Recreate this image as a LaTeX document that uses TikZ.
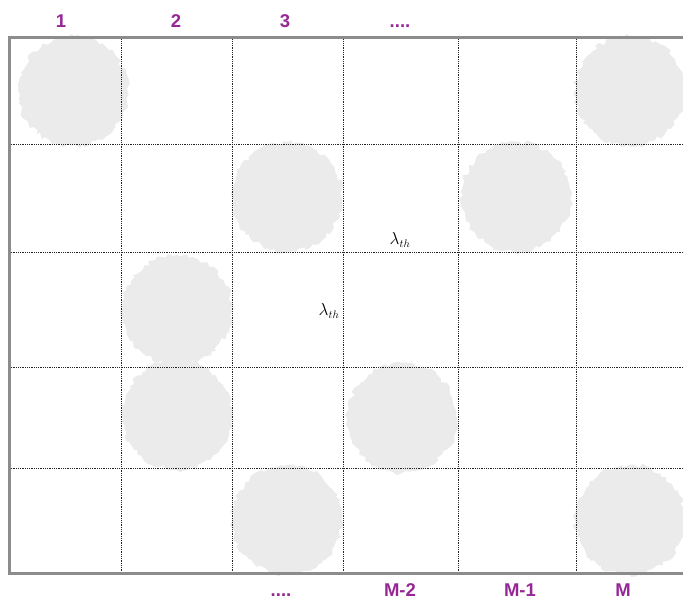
\documentclass[tikz,border=0pt]{standalone}
\usepackage{fontspec}
\setsansfont{Liberation Sans}
\usetikzlibrary{decorations.pathmorphing}
\definecolor{lblpurple}{RGB}{150,40,150}
\definecolor{blobgray}{RGB}{235,235,235}
\definecolor{bordergray}{RGB}{140,140,140}
\tikzset{
  lbl/.style={text=lblpurple,font=\sffamily\bfseries\fontsize{18.5}{20}\selectfont,anchor=base,inner sep=0pt},
  lam/.style={font=\fontsize{16}{19}\selectfont,inner sep=0pt},
  gridline/.style={draw=black!85,line width=0.9pt,dash pattern=on 1pt off 0.8pt},
  border/.style={draw=bordergray,line width=3pt},
  blob/.style={fill=blobgray,decorate,decoration={random steps,segment length=3.5pt,amplitude=2.4pt}}
}
\begin{document}
\begin{tikzpicture}[x=1pt,y=-1pt]
\useasboundingbox (0,0) rectangle (683,600);
\clip (0,0) rectangle (683,600);
\pgfmathsetseed{7}
% blobs
\foreach \cx/\cy in {73/91, 630/91, 287/197, 516/197, 177/310, 177/415, 402/418, 287/520, 630/520}{
  \path[blob] (\cx,\cy) circle[radius=55];
}
% grid lines
\foreach \gx in {121,232,343,458,576}{
  \draw[gridline] (\gx,37.5) -- (\gx,573);
}
\foreach \gy in {144,252.3,367,468}{
  \draw[gridline] (9,\gy) -- (690,\gy);
}
% border
\draw[border] (700,37.5) -- (9,37.5) -- (9,573) -- (700,573);
% top labels
\node[lbl] (t1) at (61,27) {1};
\node[lbl] (t2) at (176,27) {2};
\node[lbl] (t3) at (285,27) {3};
\node[lbl] (tdots) at (400,27) {....};
% bottom labels
\node[lbl] (bdots) at (281,596.5) {....};
\node[lbl] (bm2) at (400,596.5) {M-2};
\node[lbl] (bm1) at (520,596.5) {M-1};
\node[lbl] (bm) at (623,596.5) {M};
% lambda labels
\node[lam] (lam1) at (400,240) {$\lambda_{th}$};
\node[lam] (lam2) at (329,311) {$\lambda_{th}$};
\end{tikzpicture}
\end{document}
